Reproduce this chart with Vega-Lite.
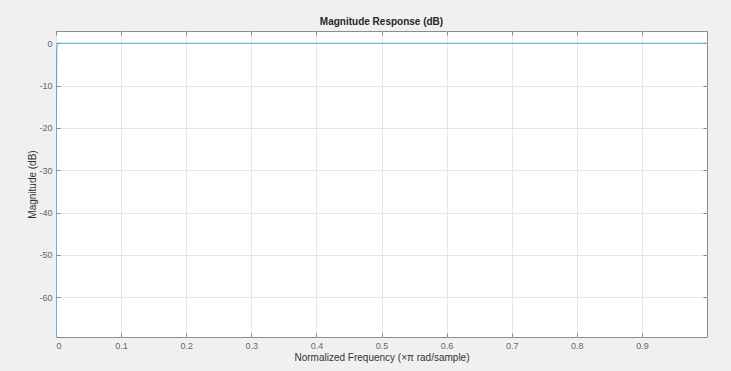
{
  "$schema": "https://vega.github.io/schema/vega-lite/v6.json",
  "width": 651,
  "height": 306,
  "autosize": {"type": "none"},
  "padding": {"left": 56, "top": 31, "right": 24, "bottom": 34},
  "background": "#f0f0f0",
  "title": {"text": "Magnitude Response (dB)", "fontSize": 10, "fontWeight": "bold", "font": "Liberation Sans", "color": "#262626", "offset": 4},
  "config": {
    "view": {"stroke": "#8c8c8c", "fill": "white", "strokeWidth": 1},
    "axis": {
      "domain": false,
      "tickSize": -4,
      "tickColor": "#8c8c8c",
      "gridColor": "#e6e6e6",
      "labelFont": "Liberation Sans",
      "labelFontSize": 9,
      "labelColor": "#666666",
      "titleFont": "Liberation Sans",
      "titleFontSize": 10,
      "titleFontWeight": "normal",
      "titleColor": "#333333"
    }
  },
  "data": {"values": [
    {"f": 0, "m": -300},
    {"f": 0.0005, "m": -20},
    {"f": 0.001, "m": -2},
    {"f": 0.002, "m": 0},
    {"f": 0.5, "m": 0},
    {"f": 1, "m": 0}
  ]},
  "layer": [
    {
      "mark": {"type": "line", "color": "#5aa7dc", "strokeWidth": 1.2, "clip": true},
      "encoding": {
        "x": {"field": "f", "type": "quantitative", "scale": {"domain": [0, 1], "nice": false},
          "axis": {"orient": "bottom", "values": [0, 0.1, 0.2, 0.3, 0.4, 0.5, 0.6, 0.7, 0.8, 0.9], "labelExpr": "'' + datum.value", "labelPadding": 8, "title": "Normalized Frequency  (×π rad/sample)", "titlePadding": 2, "grid": true}},
        "y": {"field": "m", "type": "quantitative", "scale": {"domain": [-69.4, 2.9], "nice": false, "zero": false},
          "axis": {"orient": "left", "values": [0, -10, -20, -30, -40, -50, -60], "labelExpr": "'' + datum.value", "labelPadding": 8, "title": "Magnitude (dB)", "titlePadding": 1, "grid": true}}
      }
    },
    {
      "mark": {"type": "point", "opacity": 0},
      "encoding": {
        "x": {"field": "f", "type": "quantitative", "scale": {"domain": [0, 1], "nice": false},
          "axis": {"orient": "top", "values": [0, 0.1, 0.2, 0.3, 0.4, 0.5, 0.6, 0.7, 0.8, 0.9], "labels": false, "title": null, "grid": false}},
        "y": {"field": "m", "type": "quantitative", "scale": {"domain": [-69.4, 2.9], "nice": false, "zero": false},
          "axis": {"orient": "right", "values": [0, -10, -20, -30, -40, -50, -60], "labels": false, "title": null, "grid": false}}
      }
    }
  ],
  "resolve": {"axis": {"x": "independent", "y": "independent"}}
}
